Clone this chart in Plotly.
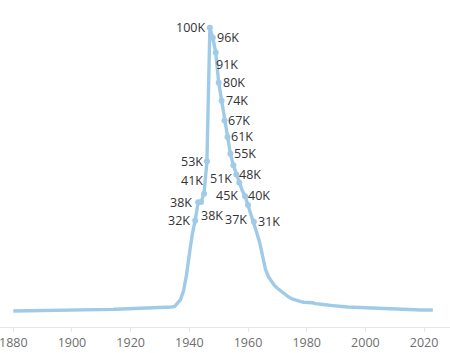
import plotly.graph_objects as go

years = list(range(1880, 2024))
counts = [
    # 1880-1889
    27, 38, 36, 49, 33, 60, 64, 76, 98, 83,
    # 1890-1899
    86, 90, 118, 120, 130, 133, 140, 139, 154, 140,
    # 1900-1909
    180, 160, 190, 200, 210, 230, 230, 260, 280, 300,
    # 1910-1919
    330, 380, 450, 500, 560, 620, 650, 680, 700, 720,
    # 1920-1929
    760, 790, 820, 850, 880, 900, 920, 950, 980, 1000,
    # 1930-1939
    1050, 1100, 1150, 1250, 1400, 1600, 2600, 4000, 7000, 12500,
    # 1940-1949
    20000, 27000, 31900, 38300, 38400, 41300, 52700, 99700, 96200, 91000,
    # 1950-1959
    80400, 74000, 67100, 61300, 55400, 51300, 48100, 45200, 42500, 40400,
    # 1960-1969
    37300, 34500, 31400, 27500, 24000, 19500, 14500, 12000, 10300, 9000,
    # 1970-1979
    8000, 7100, 6500, 5500, 4800, 4300, 3900, 3600, 3300, 3100,
    # 1980-1989
    3050, 3100, 2900, 2600, 2400, 2300, 2200, 2100, 2000, 1950,
    # 1990-1999
    1900, 1750, 1600, 1500, 1400, 1350, 1300, 1200, 1150, 1100,
    # 2000-2009
    1050, 1000, 950, 900, 850, 800, 780, 750, 700, 650,
    # 2010-2019
    600, 570, 540, 500, 480, 460, 440, 420, 400, 380,
    # 2020-2023
    370, 360, 350, 340,
]
labeled_years = [1942, 1943, 1944, 1945, 1946, 1947, 1948, 1949, 1950, 1951,
                 1952, 1953, 1954, 1955, 1956, 1957, 1959, 1960, 1962]
tick_years = [1880, 1900, 1920, 1940, 1960, 1980, 2000, 2020]

value_of = dict(zip(years, counts))
lab_vals = [value_of[y] for y in labeled_years]

# label placement: (xanchor, xshift, yshift)
placement = {
    1942: ("right", -5, 0), 1943: ("right", -6, 0), 1944: ("left", 0, -14),
    1945: ("right", -1, 13), 1946: ("right", -4, 0), 1947: ("right", -5, 0),
    1948: ("left", 4, 0), 1949: ("left", 0, -12), 1950: ("left", 4, 0),
    1951: ("left", 4, 0), 1952: ("left", 3.5, 0), 1953: ("left", 4, 0),
    1954: ("left", 3.5, 0), 1955: ("right", -1, -13), 1956: ("left", 3, 0),
    1957: ("right", -1, -13), 1959: ("left", 3, 1), 1960: ("right", -1, -14),
    1962: ("left", 4, 0),
}

line_color = "#a0cbe8"
fig = go.Figure()
fig.add_trace(go.Scatter(x=years, y=counts, mode="lines",
                         line=dict(color=line_color, width=3.4), hoverinfo="skip"))
fig.add_trace(go.Scatter(x=labeled_years, y=lab_vals, mode="markers",
                         marker=dict(color=line_color, size=6), hoverinfo="skip"))

for yr, v in zip(labeled_years, lab_vals):
    xa, dx, dy = placement[yr]
    fig.add_annotation(x=yr, y=v, xref="x", yref="y", text=f"{round(v/1000)}K",
                       showarrow=False, xanchor=xa, yanchor="middle",
                       xshift=dx, yshift=dy, borderpad=0, borderwidth=0,
                       font=dict(family="Open Sans", size=12.5, color="#333333"))

fig.update_layout(
    width=450, height=353, margin=dict(l=0, r=0, t=0, b=26),
    paper_bgcolor="white", plot_bgcolor="white", showlegend=False,
    xaxis=dict(range=[1875.47, 2028.84], tickvals=tick_years,
               ticktext=[str(t) for t in tick_years],
               showgrid=False, zeroline=False, showline=True, linecolor="#e6e6e6",
               ticks="outside", ticklen=4, tickcolor="#e6e6e6",
               ticklabeloverflow="allow",
               tickfont=dict(family="Open Sans", size=12.5, color="#6e6e6e")),
    yaxis=dict(range=[-5630, 109500], visible=False),
)
fig.write_html("out.html")
